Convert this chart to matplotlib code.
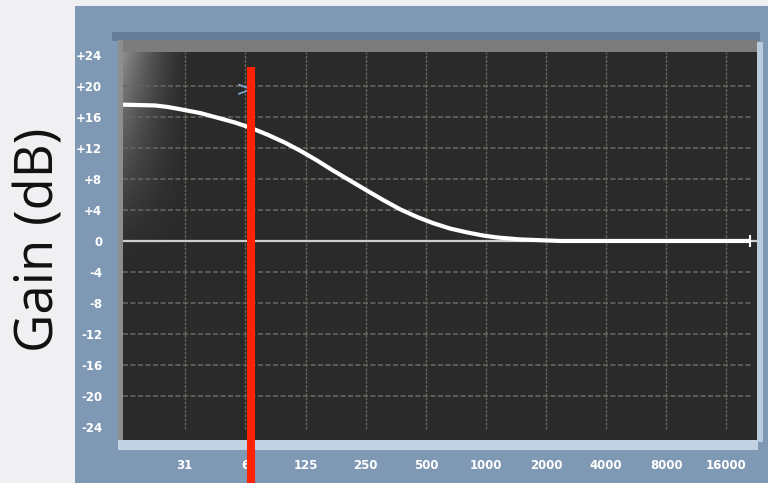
import numpy as np
import matplotlib as mpl
mpl.use("Agg")
import matplotlib.pyplot as plt
from matplotlib.patches import Rectangle

# frequency axis (Hz), octave spaced
freq_ticks = [31, 62, 125, 250, 500, 1000, 2000, 4000, 8000, 16000]
freq_labels = ["31", "6", "125", "250", "500", "1000", "2000", "4000", "8000", "16000"]

# gain axis (dB)
gain_ticks = [24, 20, 16, 12, 8, 4, 0, -4, -8, -12, -16, -20, -24]
gain_labels = ["+24", "+20", "+16", "+12", "+8", "+4", "0", "-4", "-8", "-12", "-16", "-20", "-24"]

# low-shelf response
curve_freq = [15.2, 21.9, 25.5, 31, 37.3, 45.4, 55.2, 66.5, 80.9, 98.4, 118.4,
              142.4, 171.4, 208.5, 253.9, 305, 371, 452, 544, 662, 806, 969,
              1140, 1486, 2360, 21000]
curve_gain = [17.6, 17.5, 17.3, 16.9, 16.5, 15.9, 15.3, 14.6, 13.7, 12.7, 11.6,
              10.4, 9.1, 7.8, 6.5, 5.3, 4.1, 3.1, 2.3, 1.6, 1.1, 0.7,
              0.45, 0.2, 0.0, 0.0]

marker_freq = 62      # band handle / red cursor
marker_gain = 19.5

W, H = 768, 483
fig = plt.figure(figsize=(W / 100, H / 100), dpi=100, facecolor="#f0f0f3")


def box(x, y, w, h, **kw):
    # rectangle given in pixels from top-left of the figure
    r = Rectangle((x / W, 1 - (y + h) / H), w / W, h / H,
                  transform=fig.transFigure, lw=0, **kw)
    fig.add_artist(r)
    return r


# blue plugin panel and bevels
box(75, 6, 693, 477, color="#7f99b4", zorder=0)
box(112, 32, 648, 9, color="#506780", alpha=0.55, zorder=0)
box(118, 40, 640, 12, color="#7c7c7c", zorder=0)
box(118, 40, 5, 400, color="#8e8e8e", zorder=0)
box(118, 440, 640, 10, color="#c3d2e2", zorder=0)
box(757, 42, 6, 400, color="#b9cbdd", zorder=0)

left, top, right, bottom = 123, 52, 757, 440
ax = fig.add_axes([left / W, 1 - bottom / H, (right - left) / W, (bottom - top) / H])
ax.set_facecolor("#2a2a2a")
ax.set_xscale("log", base=2)
for s in ax.spines.values():
    s.set_visible(False)

# glow in the upper-left corner
gx, gy = np.meshgrid(np.linspace(0, 1, 80), np.linspace(0, 1, 120))
a = np.clip(1 - gx, 0, 1) ** 1.6 * np.clip(1 - gy, 0, 1) ** 1.3
glow = np.zeros((120, 80, 4))
glow[..., :3] = 0.62
glow[..., 3] = a * 0.85
ax.imshow(glow, extent=[0, 0.11, 0.45, 1], transform=ax.transAxes,
          aspect="auto", zorder=0.5, interpolation="bilinear")
ax.set_xlim(15.2, 22800)
ax.set_ylim(-25.7, 24.4)

grid_c = "#67645b"
ax.vlines(freq_ticks, -24.3, 24.4, colors=grid_c, lw=1.0, linestyles=(0, (2, 1)), zorder=1)
ax.hlines([g for g in gain_ticks if g not in (0, 24, -24)], 15.2, 21500,
          colors=grid_c, lw=1.2, linestyles=(0, (3, 1.5)), zorder=1)
ax.axhline(0, color="#cfcfcf", lw=1.6, zorder=2)

ax.plot(curve_freq, curve_gain, color="white", lw=3.0, solid_capstyle="butt",
        solid_joinstyle="round", zorder=3)
ax.plot([curve_freq[-1]], [curve_gain[-1]], marker="|", ms=9, mew=1.5,
        color="white", zorder=3)

ax.text(marker_freq, marker_gain, ">", color="#7fa6cf", fontsize=15,
        ha="center", va="center", zorder=4)

tick_font = dict(family=["Liberation Sans Narrow", "DejaVu Sans"],
                 weight="bold", color="white", size=8.5)
ax.set_xticks(freq_ticks)
ax.set_xticklabels(freq_labels, **tick_font)
ax.set_yticks(gain_ticks)
ax.set_yticklabels(gain_labels, **tick_font)
ax.xaxis.set_minor_locator(mpl.ticker.NullLocator())
ax.tick_params(axis="x", length=0, pad=14)
ax.tick_params(axis="y", length=0, pad=15)

# red cursor line, runs past the panel to the bottom edge
ax.axvline(marker_freq * 1.07, ymin=-0.12, ymax=(bottom - 67) / (bottom - top),
           color="#ff2200", lw=5.8, zorder=5, clip_on=False, solid_capstyle="butt")

fig.text(40 / W, 1 - 240 / H, "Gain (dB)", rotation=90, ha="center", va="center",
         fontsize=38, family=["Open Sans", "DejaVu Sans"], color="#111111")

fig.savefig("out.png", dpi=100, facecolor=fig.get_facecolor())
